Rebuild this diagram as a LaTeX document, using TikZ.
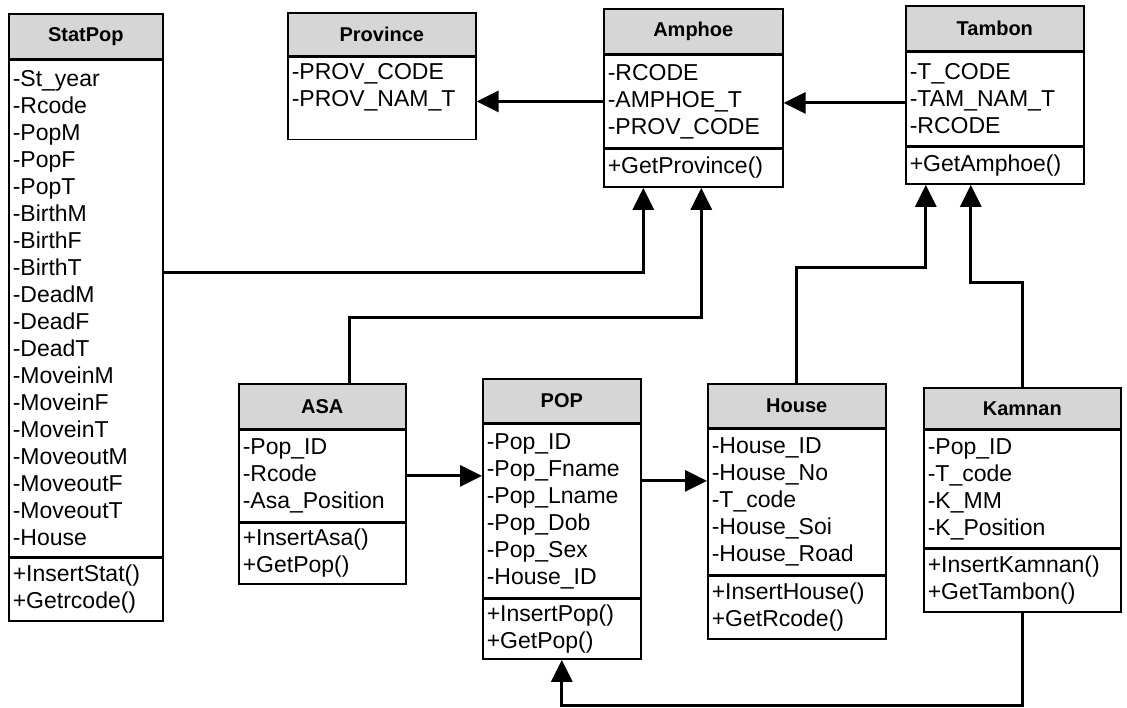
\documentclass[tikz,border=0pt]{standalone}
\usepackage{fontspec}
\setmainfont{Liberation Sans}
\usepackage{tikz}
\usetikzlibrary{arrows.meta,positioning}
\definecolor{headgray}{HTML}{D6D6D6}

\begin{document}
\begin{tikzpicture}[
  x=1pt,y=-1pt,
  font=\fontsize{23}{27}\selectfont,
  head/.style={draw,line width=1.6pt,fill=headgray,align=center,inner xsep=4pt,inner ysep=0pt,minimum height=45pt,font=\fontsize{20}{24}\selectfont\bfseries,anchor=north west},
  part/.style={draw,line width=1.6pt,fill=white,align=left,inner xsep=4pt,inner ysep=0pt},
  arr/.style={-{Triangle[length=22pt,width=21pt]},line width=3pt}
]
\useasboundingbox (0,0) rectangle (1127,707);
% StatPop
\node[head,text width=146pt] (statpop) at (8,13) {StatPop};
\node[part,text width=146pt,minimum height=496pt,below=0pt of statpop] (statpop-a)
  {-St\_year\\-Rcode\\-PopM\\-PopF\\-PopT\\-BirthM\\-BirthF\\-BirthT\\-DeadM\\-DeadF\\-DeadT\\-MoveinM\\-MoveinF\\-MoveinT\\-MoveoutM\\-MoveoutF\\-MoveoutT\\-House};
\node[part,text width=146pt,minimum height=63pt,below=0pt of statpop-a] (statpop-m) {+InsertStat()\\+Getrcode()};
% Province
\node[head,text width=180pt,minimum height=43pt] (province) at (287,12) {Province};
\node[part,text width=180pt,minimum height=82pt,text depth=53pt,below=0pt of province] (province-a) {-PROV\_CODE\\-PROV\_NAM\_T};
% Amphoe
\node[head,text width=171pt] (amphoe) at (603,8) {Amphoe};
\node[part,text width=171pt,minimum height=92pt,below=0pt of amphoe] (amphoe-a) {-RCODE\\-AMPHOE\_T\\-PROV\_CODE};
\node[part,text width=171pt,minimum height=38pt,below=0pt of amphoe-a] (amphoe-m) {+GetProvince()};
% Tambon
\node[head,text width=170pt] (tambon) at (905,5) {Tambon};
\node[part,text width=170pt,minimum height=93pt,below=0pt of tambon] (tambon-a) {-T\_CODE\\-TAM\_NAM\_T\\-RCODE};
\node[part,text width=170pt,minimum height=37pt,below=0pt of tambon-a] (tambon-m) {+GetAmphoe()};
% ASA
\node[head,text width=159pt] (asa) at (238,383) {ASA};
\node[part,text width=159pt,minimum height=91pt,below=0pt of asa] (asa-a) {-Pop\_ID\\-Rcode\\-Asa\_Position};
\node[part,text width=159pt,minimum height=61pt,below=0pt of asa-a] (asa-m) {+InsertAsa()\\+GetPop()};
% POP
\node[head,text width=150pt,minimum height=44pt] (pop) at (482,378) {POP};
\node[part,text width=150pt,minimum height=173pt,below=0pt of pop] (pop-a)
  {-Pop\_ID\\-Pop\_Fname\\-Pop\_Lname\\-Pop\_Dob\\-Pop\_Sex\\-House\_ID};
\node[part,text width=150pt,minimum height=60pt,below=0pt of pop-a] (pop-m) {+InsertPop()\\+GetPop()};
% House
\node[head,text width=170pt,minimum height=44pt] (house) at (707,383) {House};
\node[part,text width=170pt,minimum height=145pt,below=0pt of house] (house-a)
  {-House\_ID\\-House\_No\\-T\_code\\-House\_Soi\\-House\_Road};
\node[part,text width=170pt,minimum height=63pt,below=0pt of house-a] (house-m) {+InsertHouse()\\+GetRcode()};
% Kamnan
\node[head,text width=189pt,minimum height=41pt] (kamnan) at (923,387) {Kamnan};
\node[part,text width=189pt,minimum height=117pt,below=0pt of kamnan] (kamnan-a) {-Pop\_ID\\-T\_code\\-K\_MM\\-K\_Position};
\node[part,text width=189pt,minimum height=63pt,below=0pt of kamnan-a] (kamnan-m) {+InsertKamnan()\\+GetTambon()};

\draw[arr] (amphoe-a.west) -- (amphoe-a.west -| province-a.east);
\draw[arr] ([yshift=-4pt]tambon-a.west) -- ([yshift=-4pt]tambon-a.west -| amphoe-a.east);
\draw[arr] ([yshift=36pt]statpop-a.east) -| ([xshift=-50pt]amphoe-m.south);
\draw[arr] ([xshift=27pt]asa.north) -- ++(0,-66) -| ([xshift=8pt]amphoe-m.south);
\draw[arr] (house.north) -- ++(0,-116) -| ([xshift=-69pt]tambon-m.south);
\draw[arr] (kamnan.north) -- ++(0,-105) -| ([xshift=-24pt]tambon-m.south);
\draw[arr] (asa-a.east) -- (asa-a.east -| pop-a.west);
\draw[arr] ([yshift=30pt]pop-a.east) -- ([yshift=30pt]pop-a.east -| house-a.west);
\draw[arr] (kamnan-m.south) -- ++(0,93) -| (pop-m.south);
\end{tikzpicture}
\end{document}
